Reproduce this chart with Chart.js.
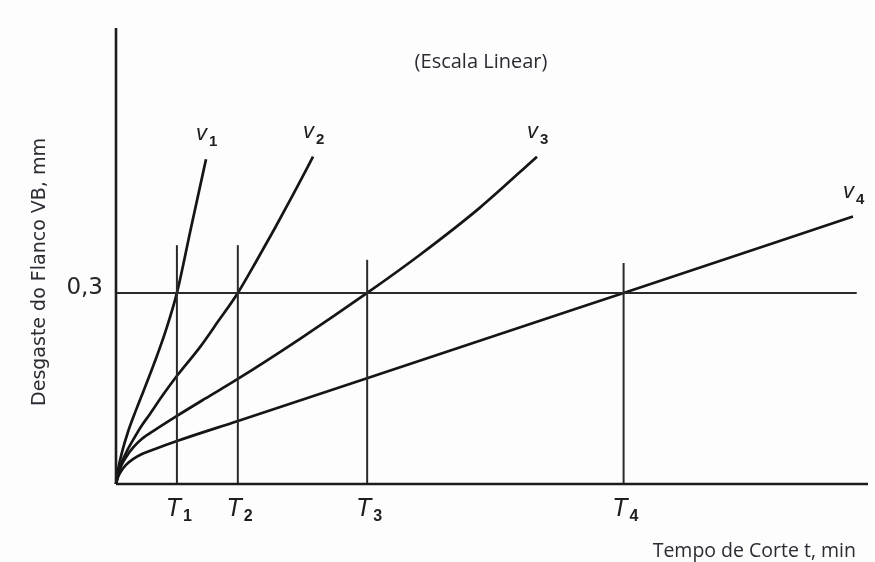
<!DOCTYPE html>
<html lang="pt">
<head>
<meta charset="utf-8">
<title>Desgaste do Flanco VB x Tempo de Corte</title>
<script src="https://cdn.jsdelivr.net/npm/chart.js@4.4.1/dist/chart.umd.min.js"></script>
<style>
  html, body { margin: 0; padding: 0; background: #fdfdfd; }
  #wrap { width: 875px; height: 562px; }
</style>
</head>
<body>
<div id="wrap"><canvas id="grafico" width="875" height="562"></canvas></div>
<script>
// Curvas de desgaste do flanco (VB, mm) em função do tempo de corte,
// uma para cada velocidade de corte v1 > v2 > v3 > v4.
const velocidades = ['1', '2', '3', '4'];

const v1Tempo    = [0, 0.27, 0.8, 1.6, 2.66, 3.86, 5.19, 6.65, 8.1, 9.97, 11.97];
const v1Desgaste = [0, 0.022, 0.050, 0.082, 0.116, 0.152, 0.193, 0.242, 0.300, 0.402, 0.510];

const v2Tempo    = [0, 0.27, 0.8, 1.46, 2.26, 3.32, 4.52, 6.25, 8.11, 11.17, 13.56, 16.2, 18.62, 21.14, 23.67, 26.2];
const v2Desgaste = [0, 0.016, 0.035, 0.052, 0.069, 0.090, 0.110, 0.140, 0.170, 0.215, 0.255, 0.300, 0.349, 0.402, 0.457, 0.514];

const v3Tempo    = [0, 0.27, 0.67, 1.33, 2.26, 3.46, 5.19, 8.11, 11.84, 16.2, 24.47, 33.4, 40.43, 48.4, 55.98];
const v3Desgaste = [0, 0.014, 0.028, 0.042, 0.057, 0.071, 0.085, 0.107, 0.134, 0.165, 0.228, 0.300, 0.360, 0.434, 0.514];

const v4Tempo    = [0, 0.27, 0.67, 1.33, 2.26, 3.46, 5.19, 8.11, 16.22, 33.38, 67.5, 98.0];
const v4Desgaste = [0, 0.011, 0.020, 0.030, 0.039, 0.047, 0.055, 0.0675, 0.099, 0.166, 0.300, 0.420];

// Vida da ferramenta T1..T4 (tempo em que cada curva atinge VB = 0,3 mm)
const vidaT      = [8.1, 16.2, 33.4, 67.5];
const vidaTopo   = [0.375, 0.375, 0.352, 0.347];

// Critério de fim de vida e extensão dos eixos
const criterioVB   = 0.3;
const criterioFim  = 98.5;
const tempoMax     = 100;
const desgasteMax  = 0.716;

const curvas = [
  [v1Tempo, v1Desgaste],
  [v2Tempo, v2Desgaste],
  [v3Tempo, v3Desgaste],
  [v4Tempo, v4Desgaste]
];

const pontos = (xs, ys) => xs.map((x, i) => ({ x, y: ys[i] }));

const tinta = '#151515';
const datasets = [];

// eixos desenhados como linhas de dados
datasets.push({ id: 'eixoY', data: [{ x: 0, y: 0 }, { x: 0, y: desgasteMax }],
  borderColor: '#1c1c1c', borderWidth: 2.6 });
datasets.push({ id: 'eixoX', data: [{ x: 0, y: 0 }, { x: tempoMax, y: 0 }],
  borderColor: '#1c1c1c', borderWidth: 2.6 });

// linha horizontal do critério VB = 0,3
datasets.push({ id: 'criterio', data: [{ x: 0, y: criterioVB }, { x: criterioFim, y: criterioVB }],
  borderColor: '#2a2a2a', borderWidth: 2 });

// linhas verticais em T1..T4
vidaT.forEach((t, i) => {
  datasets.push({ id: 'T' + (i + 1), data: [{ x: t, y: 0 }, { x: t, y: vidaTopo[i] }],
    borderColor: '#2a2a2a', borderWidth: 2 });
});

// curvas de desgaste
curvas.forEach(([xs, ys], i) => {
  datasets.push({ id: 'v' + velocidades[i], label: 'v' + velocidades[i],
    data: pontos(xs, ys), borderColor: tinta, borderWidth: 2.7,
    cubicInterpolationMode: 'monotone' });
});

datasets.forEach(d => {
  d.pointRadius = 0;
  d.fill = false;
  d.clip = false;
  d.borderCapStyle = 'butt';
});

// índice subscrito: letra em itálico seguida de um algarismo menor
function rotuloIndice(ctx, letra, indice, xDir, yBase, tamLetra, tamIndice, desc) {
  ctx.font = 'italic ' + tamLetra + 'px "Liberation Sans", Arial, sans-serif';
  ctx.textAlign = 'right';
  ctx.textBaseline = 'alphabetic';
  ctx.fillText(letra, xDir, yBase);
  ctx.font = 'bold ' + tamIndice + 'px "Liberation Sans", Arial, sans-serif';
  ctx.textAlign = 'left';
  ctx.fillText(indice, xDir + 2, yBase + desc);
}

const textos = {
  id: 'textos',
  afterDraw(chart) {
    const { ctx, scales: { x, y } } = chart;
    ctx.save();
    ctx.fillStyle = '#262626';

    // valor 0,3 no eixo vertical
    ctx.font = '23px "DejaVu Sans", sans-serif';
    ctx.textAlign = 'right';
    ctx.textBaseline = 'alphabetic';
    ctx.fillText('0,3', x.getPixelForValue(0) - 13, y.getPixelForValue(criterioVB) + 1);

    ctx.fillStyle = '#1e1e1e';
    // rótulos T1..T4 sob o eixo do tempo
    vidaT.forEach((t, i) => {
      const px = x.getPixelForValue(t);
      rotuloIndice(ctx, 'T', String(i + 1), px + 4, y.getPixelForValue(0) + 32, 25, 16, 5);
    });

    // rótulos v1..v4 no fim de cada curva
    curvas.forEach(([xs, ys], i) => {
      const n = xs.length - 1;
      const px = x.getPixelForValue(xs[n]);
      const py = y.getPixelForValue(ys[n]);
      rotuloIndice(ctx, 'v', velocidades[i], px + 1, py - 19, 22, 15, 6);
    });

    // título da escala
    ctx.fillStyle = '#2b2b33';
    ctx.font = '20px "Open Sans", sans-serif';
    ctx.textAlign = 'center';
    ctx.textBaseline = 'middle';
    ctx.fillText('(Escala Linear)', 481, 62);

    // título do eixo do tempo
    ctx.font = '19.5px "Open Sans", sans-serif';
    ctx.textAlign = 'right';
    ctx.fillText('Tempo de Corte t, min', 856, 551);

    // título do eixo do desgaste
    ctx.save();
    ctx.translate(40, 272);
    ctx.rotate(-Math.PI / 2);
    ctx.font = '19px "DejaVu Sans", sans-serif';
    ctx.textAlign = 'center';
    ctx.textBaseline = 'middle';
    ctx.fillText('Desgaste do Flanco VB, mm', 0, 0);
    ctx.restore();

    ctx.restore();
  }
};

new Chart(document.getElementById('grafico'), {
  type: 'line',
  data: { datasets },
  options: {
    responsive: false,
    animation: false,
    events: [],
    layout: { padding: { left: 116, right: 7, top: 28, bottom: 78 } },
    plugins: { legend: { display: false }, tooltip: { enabled: false }, title: { display: false } },
    scales: {
      x: { type: 'linear', min: 0, max: tempoMax, display: false },
      y: { type: 'linear', min: 0, max: desgasteMax, display: false }
    }
  },
  plugins: [textos]
});
</script>
</body>
</html>
